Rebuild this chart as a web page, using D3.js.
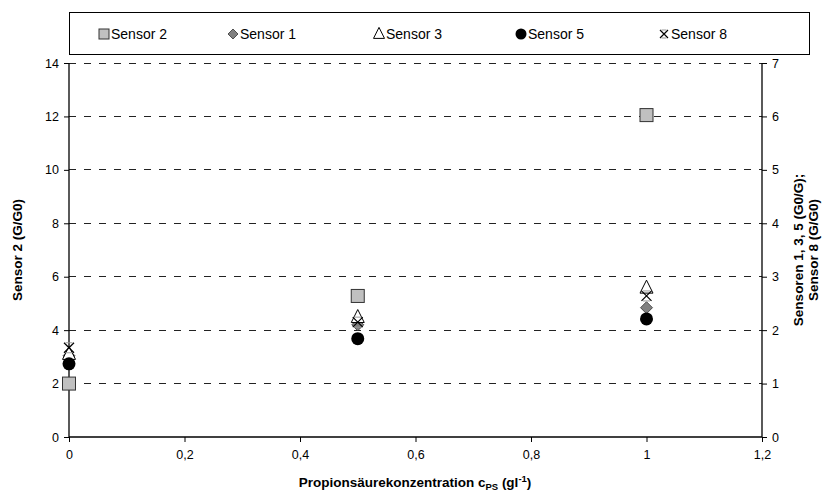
<!DOCTYPE html>
<html><head><meta charset="utf-8">
<script src="https://cdn.jsdelivr.net/npm/d3@7"></script>
<style>body{margin:0;background:#fff}svg{display:block;font-family:Arial,"Liberation Sans",sans-serif}</style>
</head><body><svg id="c" width="835" height="495"></svg>
<script>
const xValues = [0, 0.5, 1];
const sensor2 = [2.0, 5.28, 12.05];   // left axis
const sensor1 = [1.52, 2.1, 2.42];    // right axis
const sensor3 = [1.55, 2.24, 2.79];
const sensor5 = [1.37, 1.84, 2.21];
const sensor8 = [1.67, 2.15, 2.64];
const xTicks = [0, 0.2, 0.4, 0.6, 0.8, 1, 1.2];
const yLeftTicks = [0, 2, 4, 6, 8, 10, 12, 14];
const yRightTicks = [0, 1, 2, 3, 4, 5, 6, 7];

const svg = d3.select("#c");
const L = 69, R = 762, T = 63, B = 437;
const x = d3.scaleLinear().domain([0, 1.2]).range([L, R]);
const yL = d3.scaleLinear().domain([0, 14]).range([B, T]);
const yR = d3.scaleLinear().domain([0, 7]).range([B, T]);
const fmt = d => String(+d.toFixed(2)).replace(".", ",");

// gridlines
svg.append("g").selectAll("line").data(yLeftTicks.filter(d => d > 0)).join("line")
  .attr("x1", L).attr("x2", R).attr("y1", d => yL(d)).attr("y2", d => yL(d))
  .attr("stroke", "#222").attr("stroke-width", 1).attr("stroke-dasharray", "7,8")
  .attr("shape-rendering", "crispEdges");

// axes
const gx = svg.append("g").attr("transform", `translate(0,${B})`)
  .call(d3.axisBottom(x).tickValues(xTicks).tickFormat(fmt).tickSize(5).tickPadding(8));
const gl = svg.append("g").attr("transform", `translate(${L},0)`)
  .call(d3.axisLeft(yL).tickValues(yLeftTicks).tickFormat(fmt).tickSize(5).tickPadding(5));
const gr = svg.append("g").attr("transform", `translate(${R},0)`)
  .call(d3.axisRight(yR).tickValues(yRightTicks).tickFormat(fmt).tickSize(5).tickPadding(5));
[gx, gl, gr].forEach(g => {
  g.selectAll("path.domain").attr("stroke", "#000").attr("stroke-width", 1.3);
  g.selectAll(".tick line").attr("stroke", "#000");
  g.selectAll("text").attr("font-size", 12.5).attr("fill", "#000").attr("font-family", "Arial, Liberation Sans, sans-serif");
});
gx.selectAll("path.domain").attr("d", `M${L},0H${R}`);
gl.selectAll("path.domain").attr("d", `M0,${B}V${T}`);
gr.selectAll("path.domain").attr("d", `M0,${B}V${T}`);

// markers
function drawSym(g, type, cx, cy, leg) {
  if (type === "square") {
    const s = leg ? 10 : 13;
    g.append("rect").attr("x", cx - s/2).attr("y", cy - s/2).attr("width", s).attr("height", s)
      .attr("fill", "#c0c0c0").attr("stroke", "#333").attr("stroke-width", 1);
  } else if (type === "diamond") {
    const s = leg ? 5 : 6;
    g.append("path").attr("d", `M${cx},${cy-s}L${cx+s},${cy}L${cx},${cy+s}L${cx-s},${cy}Z`)
      .attr("fill", "#808080").attr("stroke", "#333").attr("stroke-width", 0.8);
  } else if (type === "triangle") {
    const s = leg ? 5.5 : 6.5;
    g.append("path").attr("d", `M${cx},${cy-s*1.2}L${cx+s},${cy+s*0.8}L${cx-s},${cy+s*0.8}Z`)
      .attr("fill", "#fff").attr("stroke", "#000").attr("stroke-width", 1);
  } else if (type === "circle") {
    g.append("circle").attr("cx", cx).attr("cy", cy).attr("r", leg ? 5.5 : 6.5).attr("fill", "#000");
  } else if (type === "x") {
    const s = leg ? 4 : 5;
    g.append("path").attr("d", `M${cx-s},${cy-s}L${cx+s},${cy+s}M${cx-s},${cy+s}L${cx+s},${cy-s}`)
      .attr("stroke", "#000").attr("stroke-width", 1.2);
    g.append("path").attr("d", `M${cx-s+1.5},${cy-s}L${cx+s-1.5},${cy-s}M${cx-s+1.5},${cy+s}L${cx+s-1.5},${cy+s}`)
      .attr("stroke", "#999").attr("stroke-width", 1);
  }
}

const series = [
  {name: "Sensor 2", vals: sensor2, y: yL, sym: "square"},
  {name: "Sensor 1", vals: sensor1, y: yR, sym: "diamond"},
  {name: "Sensor 3", vals: sensor3, y: yR, sym: "triangle"},
  {name: "Sensor 5", vals: sensor5, y: yR, sym: "circle"},
  {name: "Sensor 8", vals: sensor8, y: yR, sym: "x"}
];
const pts = svg.append("g");
series.forEach(s => {
  s.vals.forEach((v, i) => drawSym(pts.append("g"), s.sym, x(xValues[i]), s.y(v), false));
});

// legend
const lg = svg.append("g");
lg.append("rect").attr("x", 69.5).attr("y", 12.5).attr("width", 740).attr("height", 42)
  .attr("fill", "#fff").attr("stroke", "#000").attr("stroke-width", 1);
const legX = [104, 233, 379, 521, 664];
series.forEach((s, i) => {
  drawSym(lg, s.sym, legX[i], 34, true);
  lg.append("text").attr("x", legX[i] + 7).attr("y", 39).attr("font-size", 14).text(s.name);
});

// axis titles
svg.append("text").attr("transform", `translate(22,250) rotate(-90)`).attr("text-anchor", "middle")
  .attr("font-size", 13.5).attr("font-weight", "bold").text("Sensor 2 (G/G0)");
const rt = svg.append("text").attr("transform", `translate(803,250) rotate(-90)`).attr("text-anchor", "middle")
  .attr("font-size", 13.5).attr("font-weight", "bold");
rt.append("tspan").attr("x", 0).attr("dy", 0).text("Sensoren 1, 3, 5 (G0/G);");
rt.append("tspan").attr("x", 0).attr("dy", 15).text("Sensor 8 (G/G0)");

const xt = svg.append("text").attr("x", 415).attr("y", 487).attr("text-anchor", "middle")
  .attr("font-size", 13.5).attr("font-weight", "bold");
xt.append("tspan").text("Propionsäurekonzentration c");
xt.append("tspan").attr("font-size", 9.5).attr("dy", 3).text("PS");
xt.append("tspan").attr("dy", -3).text(" (gl");
xt.append("tspan").attr("font-size", 9.5).attr("dy", -5).text("-1");
xt.append("tspan").attr("dy", 5).text(")");
</script></body></html>
